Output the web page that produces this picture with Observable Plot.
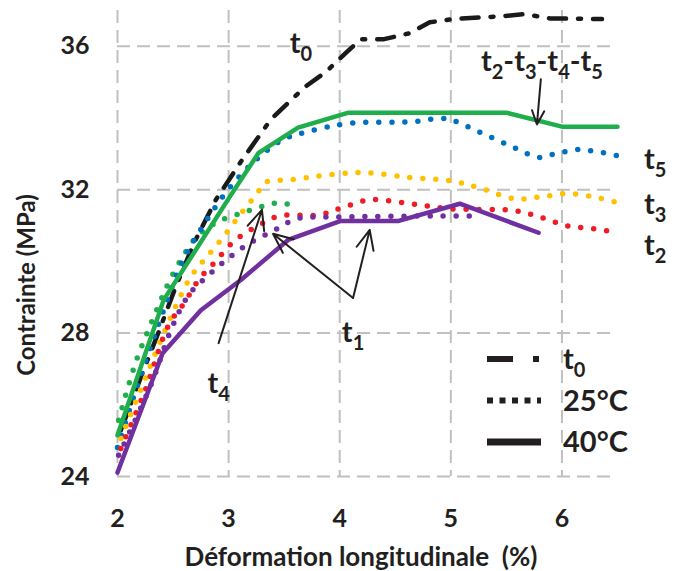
<!DOCTYPE html>
<html>
<head>
<meta charset="utf-8">
<script src="https://cdn.jsdelivr.net/npm/d3@7"></script>
<script src="https://cdn.jsdelivr.net/npm/@observablehq/plot@0.6"></script>
<style>
  html, body { margin: 0; padding: 0; background: #fff; }
  #chart { position: relative; width: 676px; height: 571px; }
</style>
</head>
<body>
<div id="chart"></div>
<script>
// ---- data (strain %, stress MPa) ----
const xTicks = [2, 3, 4, 5, 6];
const yTicks = [24, 28, 32, 36];
const xTitle = "Déformation longitudinale\u00a0 (%)";
const yTitle = "Contrainte (MPa)";

const t0 = [[2.03,25.29],[2.21,26.77],[2.37,28.03],[2.52,29.26],[2.69,30.52],[2.885,31.72],[3.11,32.78],[3.38,33.96],[3.68,34.85],[3.88,35.30],[4.06,35.83],[4.19,36.20],[4.40,36.20],[4.62,36.36],[4.81,36.67],[5.02,36.76],[5.46,36.84],[5.67,36.90],[5.89,36.78],[6.36,36.76]];

// 25°C (dotted)
const t5_25 = [[2.0,24.81],[2.21,26.83],[2.39,28.42],[2.59,30.04],[2.77,30.99],[2.975,31.92],[3.22,32.76],[3.49,33.40],[3.715,33.62],[4.08,33.85],[4.67,33.90],[4.91,33.99],[5.02,33.93],[5.25,33.62],[5.575,33.17],[5.79,32.90],[5.91,32.98],[6.14,33.12],[6.26,33.09],[6.5,32.95]];
const t3_25 = [[2.03,25.06],[2.226,26.55],[2.36,27.58],[2.5,28.59],[2.66,29.57],[2.81,30.15],[2.96,30.71],[3.11,31.33],[3.255,31.89],[3.33,32.2],[3.56,32.28],[4.17,32.48],[4.64,32.34],[5.0,32.25],[5.23,32.08],[5.575,31.75],[5.81,31.8],[6.045,31.89],[6.29,31.8],[6.5,31.64]];
const t2_25 = [[2.03,24.78],[2.25,26.41],[2.46,28.22],[2.6,28.84],[2.73,29.48],[2.885,30.01],[3.05,30.57],[3.25,30.97],[3.46,31.27],[3.815,31.3],[4.04,31.52],[4.275,31.72],[4.635,31.61],[4.99,31.47],[5.59,31.41],[5.82,31.22],[6.05,30.99],[6.29,30.91],[6.5,30.8]];
const t1_25 = [[2.01,24.59],[2.3,26.55],[2.48,28.08],[2.64,29.06],[2.81,29.59],[2.99,30.07],[3.18,30.49],[3.4,30.85],[3.615,31.19],[3.97,31.24],[5.17,31.27]];
const t4_25 = [[2.01,25.57],[2.1,26.55],[2.18,27.33],[2.27,28.03],[2.36,28.7],[2.45,29.34],[2.57,30.04],[2.72,30.71],[2.9,31.1],[3.13,31.36],[3.355,31.58],[3.46,31.64],[3.58,31.55]];

// 40°C (solid)
const t2345_40 = [[2.0,25.15],[2.415,28.92],[3.01,31.8],[3.27,33.03],[3.625,33.73],[4.08,34.15],[5.5,34.15],[6.0,33.76],[6.5,33.76]];
const t1_40 = [[2.0,24.11],[2.406,27.44],[2.75,28.64],[3.11,29.48],[3.535,30.6],[4.01,31.13],[4.53,31.13],[5.08,31.61],[5.79,30.8]];

// annotations (data coordinates)
const labels = [
  {text: "t0", x: 3.65, y: 36.06},
  {text: "t2-t3-t4-t5", x: 5.82, y: 35.58},
  {text: "t5", x: 6.84, y: 32.84},
  {text: "t3", x: 6.84, y: 31.58},
  {text: "t2", x: 6.84, y: 30.43},
  {text: "t1", x: 4.12, y: 28.0},
  {text: "t4", x: 2.91, y: 26.6}
];
const arrows = [
  {x1: 5.81, y1: 35.08, x2: 5.775, y2: 33.82},
  {x1: 4.12, y1: 28.98, x2: 4.27, y2: 30.88},
  {x1: 4.12, y1: 28.98, x2: 3.40, y2: 30.77},
  {x1: 2.91, y1: 27.72, x2: 3.30, y2: 31.44}
];
const legendItems = ["t0", "25°C", "40°C"];

const colors = {green: "#1fae4b", blue: "#0070c0", yellow: "#ffc000", red: "#ee1c25", purple: "#7030a0", black: "#1a1a1a"};
const ink = "#231f20";

const X = d => d[0], Y = d => d[1];
const dotted = (data, color) => Plot.line(data, {x: X, y: Y, stroke: color, strokeWidth: 5.5, strokeDasharray: "0,13", strokeLinecap: "round", curve: "catmull-rom"});

const plot = Plot.plot({
  width: 676,
  height: 571,
  marginLeft: 117,
  marginRight: 59,
  marginTop: 10,
  marginBottom: 95,
  style: {fontFamily: "Lato, 'Open Sans', sans-serif", fontWeight: "bold", color: ink, background: "#fff", overflow: "visible"},
  x: {domain: [2, 6.5]},
  y: {domain: [24, 37]},
  marks: [
    Plot.gridX(xTicks, {stroke: "#c0c0c0", strokeOpacity: 1, strokeWidth: 2, strokeDasharray: "13,7"}),
    Plot.gridY(yTicks, {stroke: "#c0c0c0", strokeOpacity: 1, strokeWidth: 2, strokeDasharray: "13,7"}),
    Plot.axisX({ticks: xTicks, tickFormat: d => String(d), tickSize: 0, tickPadding: 33, fontSize: 25, fill: ink, label: null}),
    Plot.axisY({ticks: yTicks, tickFormat: d => String(d), tickSize: 0, tickPadding: 28, fontSize: 25, fill: ink, label: null}),
    Plot.line(t0, {x: X, y: Y, stroke: colors.black, strokeWidth: 4.5, strokeDasharray: "17,12,3,12"}),
    dotted(t4_25, colors.green),
    dotted(t5_25, colors.blue),
    dotted(t3_25, colors.yellow),
    dotted(t2_25, colors.red),
    dotted(t1_25, colors.purple),
    Plot.line(t2345_40, {x: X, y: Y, stroke: colors.green, strokeWidth: 4.5}),
    Plot.line(t1_40, {x: X, y: Y, stroke: colors.purple, strokeWidth: 4.5}),
    Plot.arrow(arrows, {x1: "x1", y1: "y1", x2: "x2", y2: "y2", stroke: ink, strokeWidth: 2, headLength: 16, headAngle: 48}),
    Plot.text(labels, {x: "x", y: "y", text: "text", fontSize: 29, fontWeight: "bold", fill: ink, clip: false})
  ]
});

const svg = d3.select(plot);

// axis titles
svg.append("text").attr("x", 361).attr("y", 566).attr("text-anchor", "middle")
  .attr("font-size", 26).attr("font-weight", "bold").attr("fill", ink).text(xTitle);
svg.append("text").attr("transform", "translate(35,285) rotate(-90)").attr("text-anchor", "middle")
  .attr("font-size", 24).attr("font-weight", "bold").attr("fill", ink).text(yTitle);

// legend (bottom-right inside the plot area)
const lg = svg.append("g").attr("transform", "translate(487,359)");
const rowGap = 41.5;
lg.append("line").attr("x1", 0).attr("x2", 26).attr("y1", 0).attr("y2", 0).attr("stroke", ink).attr("stroke-width", 6);
lg.append("rect").attr("x", 46).attr("y", -3).attr("width", 6).attr("height", 6).attr("fill", ink);
lg.append("line").attr("x1", 0).attr("x2", 54).attr("y1", rowGap).attr("y2", rowGap).attr("stroke", ink).attr("stroke-width", 6).attr("stroke-dasharray", "6,6.5");
lg.append("line").attr("x1", 0).attr("x2", 54).attr("y1", 2 * rowGap).attr("y2", 2 * rowGap).attr("stroke", ink).attr("stroke-width", 7);
legendItems.forEach((t, i) => {
  lg.append("text").attr("x", 76).attr("y", i * rowGap).attr("dy", "0.36em").attr("text-anchor", "start")
    .attr("font-size", 29).attr("font-weight", "bold").attr("fill", ink).text(t);
});

// subscripts for t-labels
plot.querySelectorAll("text").forEach(el => {
  if (el.children.length === 0 && /^t\d/.test(el.textContent)) {
    const parts = el.textContent.split(/(\d)/).filter(s => s.length);
    el.textContent = "";
    parts.forEach(p => {
      const ts = document.createElementNS("http://www.w3.org/2000/svg", "tspan");
      if (/^\d$/.test(p)) { ts.setAttribute("font-size", "20"); ts.setAttribute("dy", "8"); }
      else if (el.childNodes.length) { ts.setAttribute("dy", "-8"); }
      ts.textContent = p;
      el.appendChild(ts);
    });
  }
});

document.getElementById("chart").appendChild(plot);
</script>
</body>
</html>
